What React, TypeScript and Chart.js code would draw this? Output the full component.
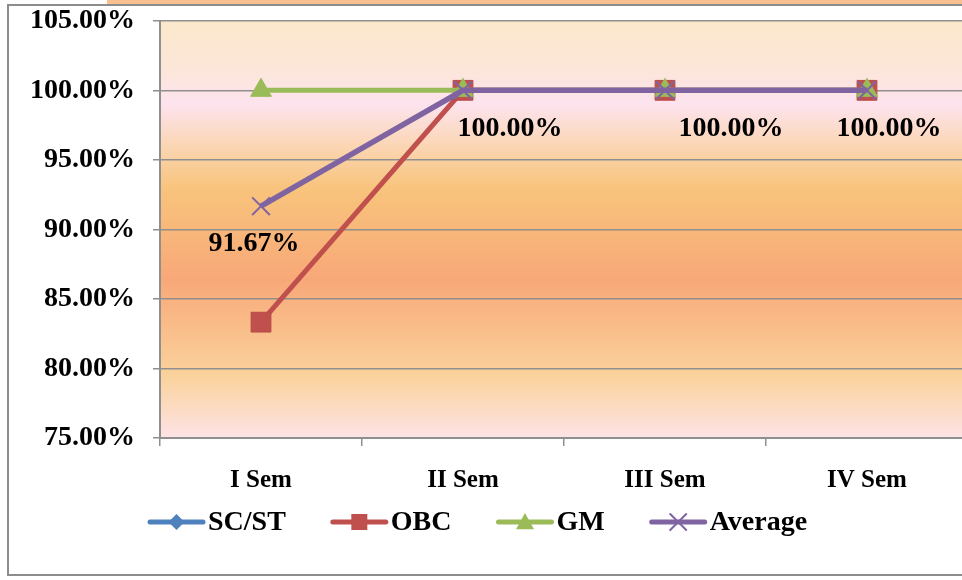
import React, { useEffect, useRef } from "react";
import { Chart, registerables } from "chart.js";

Chart.register(...registerables);

const categories = ["I Sem", "II Sem", "III Sem", "IV Sem"];
const scst: (number | null)[] = [null, null, null, null];
const obc = [83.33, 100, 100, 100];
const gm = [100, 100, 100, 100];
const average = [91.67, 100, 100, 100];
const yMin = 75;
const yMax = 105;
const yStep = 5;

const FONT = '"Liberation Serif", "Times New Roman", serif';
const GRID = "#8f8f8f";
const labelDx = [-7, 47, 66, 22];
const labelDy = 38;
const SHIFT = 14;

const bgPlugin = {
  id: "bgGradient",
  beforeDraw(chart: any) {
    const { ctx, chartArea: a } = chart;
    const g = ctx.createLinearGradient(0, a.top, 0, a.bottom);
    g.addColorStop(0, "#FBE8CA");
    g.addColorStop(0.12, "#FCE6DA");
    g.addColorStop(0.2, "#FDE3EE");
    g.addColorStop(0.3, "#FBD6B4");
    g.addColorStop(0.4, "#F8C47C");
    g.addColorStop(0.62, "#F8A878");
    g.addColorStop(0.85, "#FAD29C");
    g.addColorStop(1, "#FDE3E6");
    ctx.save();
    ctx.fillStyle = g;
    ctx.fillRect(a.left, a.top, a.right - a.left, a.bottom - a.top);
    ctx.restore();
  },
};

const labelPlugin = {
  id: "avgLabels",
  afterDatasetsDraw(chart: any) {
    const { ctx } = chart;
    const idx = chart.data.datasets.findIndex((d: any) => d.label === "Average");
    const meta = chart.getDatasetMeta(idx);
    const data = chart.data.datasets[idx].data;
    ctx.save();
    ctx.font = `bold 28px ${FONT}`;
    ctx.fillStyle = "#000";
    ctx.textAlign = "center";
    ctx.textBaseline = "middle";
    meta.data.forEach((pt: any, i: number) => {
      const v = data[i];
      if (v == null) return;
      ctx.fillText(`${Number(v).toFixed(2)}%`, pt.x + labelDx[i], pt.y + labelDy);
    });
    ctx.restore();
  },
};

function drawMarker(ctx: CanvasRenderingContext2D, style: string, x: number, y: number, color: string) {
  ctx.save();
  ctx.fillStyle = color;
  ctx.strokeStyle = color;
  ctx.beginPath();
  if (style === "rectRot") {
    const s = 8;
    ctx.moveTo(x, y - s);
    ctx.lineTo(x + s, y);
    ctx.lineTo(x, y + s);
    ctx.lineTo(x - s, y);
    ctx.closePath();
    ctx.fill();
  } else if (style === "rect") {
    const s = 8;
    ctx.rect(x - s, y - s, 2 * s, 2 * s);
    ctx.fill();
  } else if (style === "triangle") {
    const s = 9;
    ctx.moveTo(x, y - s);
    ctx.lineTo(x + s, y + s * 0.8);
    ctx.lineTo(x - s, y + s * 0.8);
    ctx.closePath();
    ctx.fill();
  } else if (style === "crossRot") {
    const s = 8;
    ctx.lineWidth = 2;
    ctx.moveTo(x - s, y - s);
    ctx.lineTo(x + s, y + s);
    ctx.moveTo(x + s, y - s);
    ctx.lineTo(x - s, y + s);
    ctx.stroke();
  }
  ctx.restore();
}

const legendPlugin = {
  id: "customLegend",
  afterDraw(chart: any) {
    const { ctx } = chart;
    const y = 522 + SHIFT;
    let x = 148;
    const lineLen = 57;
    ctx.save();
    ctx.font = `bold 28px ${FONT}`;
    ctx.textBaseline = "middle";
    ctx.textAlign = "left";
    chart.data.datasets.forEach((ds: any) => {
      ctx.strokeStyle = ds.borderColor;
      ctx.lineWidth = 5;
      ctx.lineCap = "round";
      ctx.beginPath();
      ctx.moveTo(x + 2, y);
      ctx.lineTo(x + lineLen - 2, y);
      ctx.stroke();
      drawMarker(ctx, ds.pointStyle, x + lineLen / 2, y, ds.borderColor);
      ctx.fillStyle = "#000";
      ctx.fillText(ds.label, x + lineLen + 3, y + 1);
      const w = ctx.measureText(ds.label).width;
      x += lineLen + 3 + w + 45;
    });
    ctx.restore();
  },
};

export default function App() {
  const ref = useRef<HTMLCanvasElement>(null);
  useEffect(() => {
    if (!ref.current) return;
    const chart = new Chart(ref.current, {
      type: "line",
      data: {
        labels: categories,
        datasets: [
          {
            label: "SC/ST",
            data: scst,
            borderColor: "#4F81BD",
            backgroundColor: "#4F81BD",
            pointStyle: "rectRot",
            pointRadius: 10,
            borderWidth: 5,
            order: 3,
          },
          {
            label: "OBC",
            data: obc,
            borderColor: "#C0504D",
            backgroundColor: "#C0504D",
            pointBackgroundColor: "#C0504D",
            pointBorderColor: "#B84A47",
            pointBorderWidth: 1,
            pointStyle: "rect",
            pointRadius: 14,
            borderWidth: 5,
            order: 2,
          },
          {
            label: "GM",
            data: gm,
            borderColor: "#9BBB59",
            backgroundColor: "#9BBB59",
            pointBackgroundColor: "#9BBB59",
            pointBorderColor: "#9BBB59",
            pointBorderWidth: 1,
            pointStyle: "triangle",
            pointRadius: 12,
            borderWidth: 5,
            order: 1,
          },
          {
            label: "Average",
            data: average,
            borderColor: "#8064A2",
            backgroundColor: "#8064A2",
            pointBorderColor: "#8064A2",
            pointBorderWidth: 2,
            pointStyle: "crossRot",
            pointRadius: 12.5,
            borderWidth: 5.5,
            order: 0,
          },
        ],
      },
      options: {
        responsive: false,
        animation: false,
        devicePixelRatio: 1,
        layout: { padding: { top: 6, right: 32, left: 0, bottom: 0 } },
        plugins: {
          legend: { display: false },
          tooltip: { enabled: false },
        },
        scales: {
          x: {
            offset: true,
            grid: {
              display: true,
              drawOnChartArea: false,
              drawTicks: true,
              offset: true,
              tickLength: 8,
              color: GRID,
              lineWidth: 1.5,
            },
            border: { display: true, color: GRID, width: 2 },
            ticks: {
              color: "#000",
              font: { family: FONT, size: 25, weight: "bold" },
              padding: 20,
              maxRotation: 0,
            },
            afterFit: (s: any) => {
              s.height = 142;
            },
          },
          y: {
            min: yMin,
            max: yMax,
            grid: {
              color: GRID,
              lineWidth: 1.5,
              tickLength: 7,
            },
            border: { display: true, color: GRID, width: 2 },
            ticks: {
              stepSize: yStep,
              color: "#000",
              font: { family: FONT, size: 28, weight: "bold" },
              padding: 18,
              callback: (v: any) => `${Number(v).toFixed(2)}%`,
            },
            afterFit: (s: any) => {
              s.width = 160;
            },
          },
        },
      },
      plugins: [bgPlugin, labelPlugin, legendPlugin],
    });
    return () => chart.destroy();
  }, []);

  return (
    <div
      style={{
        position: "fixed",
        left: 0,
        top: 0,
        width: 962,
        height: 580,
        overflow: "hidden",
        background: "#fff",
      }}
    >
      <div
        style={{
          position: "absolute",
          left: 107,
          top: 0,
          width: 900,
          height: 6,
          background: "#F9C08F",
        }}
      />
      <div
        style={{
          position: "absolute",
          left: 7,
          top: 4,
          width: 1100,
          height: 572,
          border: "2px solid #8c8c8c",
          boxSizing: "border-box",
        }}
      />
      <canvas
        ref={ref}
        width={1000}
        height={580 + SHIFT}
        style={{ position: "absolute", left: 0, top: -SHIFT, width: 1000, height: 580 + SHIFT }}
      />
    </div>
  );
}
